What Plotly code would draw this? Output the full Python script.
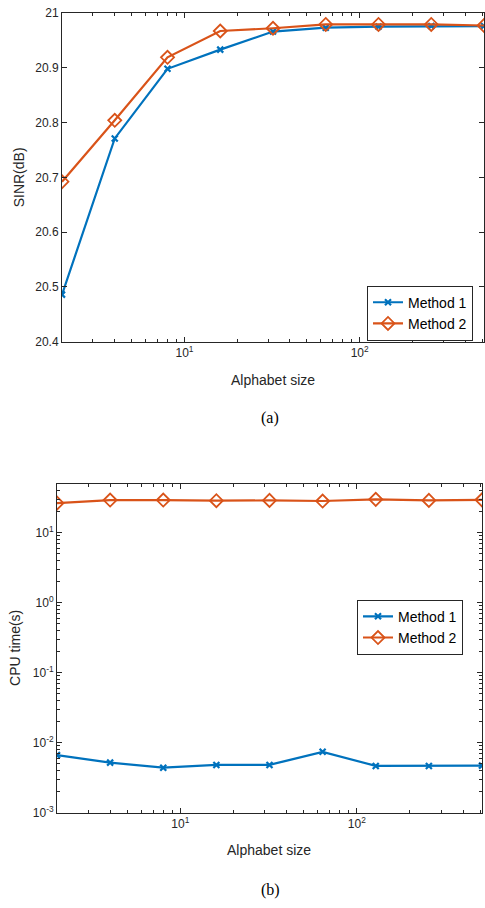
import plotly.graph_objects as go

# ---- data ----
alphabet = [2, 4, 8, 16, 32, 64, 128, 256, 512]
sinr_m1 = [20.486, 20.771, 20.898, 20.933, 20.966, 20.973, 20.975, 20.976, 20.976]
sinr_m2 = [20.692, 20.804, 20.919, 20.967, 20.972, 20.979, 20.979, 20.979, 20.977]
cpu_m1 = [0.00665, 0.00519, 0.00440, 0.00481, 0.00481, 0.00741, 0.00466, 0.00466, 0.00470]
cpu_m2 = [26.5, 29.3, 29.3, 28.7, 29.0, 28.4, 30.0, 29.0, 29.5]
names = ["Method 1", "Method 2"]

BLUE = "#0072BD"
ORANGE = "#D95319"
AX = "#262626"
W, H = 485, 908
SANS = "Liberation Sans, Arial, sans-serif"

fig = go.Figure()

def add_pair(y1, y2, xa, ya, leg):
    fig.add_trace(go.Scatter(x=alphabet, y=y1, name=names[0], mode="lines+markers",
                             line=dict(color=BLUE, width=2.2),
                             marker=dict(symbol="x-thin-open", size=6, color=BLUE,
                                         line=dict(color=BLUE, width=2.2)),
                             xaxis=xa, yaxis=ya, legend=leg))
    fig.add_trace(go.Scatter(x=alphabet, y=y2, name=names[1], mode="lines+markers",
                             line=dict(color=ORANGE, width=2.2),
                             marker=dict(symbol="diamond-open", size=10, color=ORANGE,
                                         line=dict(color=ORANGE, width=1.8)),
                             xaxis=xa, yaxis=ya, legend=leg))

add_pair(sinr_m1, sinr_m2, "x", "y", "legend")
add_pair(cpu_m1, cpu_m2, "x2", "y2", "legend2")

xminor = [3, 4, 5, 6, 7, 8, 9, 20, 30, 40, 50, 60, 70, 80, 90, 200, 300, 400, 500]
tickfont = dict(family=SANS, size=12, color=AX)

def xaxis(dom, anchor):
    return dict(type="log", domain=dom, anchor=anchor, range=[0.30103, 2.7093],
                tickvals=[10, 100], ticktext=["10<sup>1</sup>", "10<sup>2</sup>"],
                ticks="inside", ticklen=5, tickcolor=AX, tickwidth=1,
                minor=dict(tickvals=xminor, ticks="inside", ticklen=3, tickcolor=AX),
                showline=True, linecolor=AX, linewidth=1, mirror="allticks",
                showgrid=False, zeroline=False, tickfont=tickfont,
                ticklabeloverflow="allow")

fig.update_layout(
    width=W, height=H, paper_bgcolor="white", plot_bgcolor="white",
    margin=dict(l=0, r=0, t=0, b=0),
    xaxis=xaxis([62 / W, 484 / W], "y"),
    xaxis2=xaxis([57 / W, 482 / W], "y2"),
    yaxis=dict(domain=[1 - 340 / H, 1 - 6 / H], anchor="x", range=[20.4, 21.0],
               tickvals=[20.4, 20.5, 20.6, 20.7, 20.8, 20.9, 21.0],
               ticktext=["20.4", "20.5", "20.6", "20.7", "20.8", "20.9", "21"],
               ticks="inside", ticklen=5, tickcolor=AX,
               showline=True, linecolor=AX, linewidth=1, mirror="allticks",
               showgrid=False, zeroline=False, tickfont=tickfont,
               ticklabeloverflow="allow"),
    yaxis2=dict(type="log", domain=[1 - 818.3 / H, 1 - 484.3 / H], anchor="x2",
                range=[-3, 1.699],
                tickvals=[0.001, 0.01, 0.1, 1, 10],
                ticktext=["10<sup>-3</sup>", "10<sup>-2</sup>", "10<sup>-1</sup>",
                          "10<sup>0</sup>", "10<sup>1</sup>"],
                ticks="inside", ticklen=5, tickcolor=AX,
                minor=dict(tickvals=[m * 10 ** e for e in range(-3, 2) for m in range(2, 10)
                                     if m * 10 ** e <= 50],
                           ticks="inside", ticklen=3, tickcolor=AX),
                showline=True, linecolor=AX, linewidth=1, mirror="allticks",
                showgrid=False, zeroline=False, tickfont=tickfont,
                ticklabeloverflow="allow"),
    legend=dict(x=367 / W, y=1 - 283 / H, xanchor="left", yanchor="top",
                bgcolor="white", bordercolor=AX, borderwidth=1,
                font=dict(family=SANS, size=14, color="black"),
                tracegroupgap=0, itemwidth=30),
    legend2=dict(x=357 / W, y=1 - 602 / H, xanchor="left", yanchor="top",
                 bgcolor="white", bordercolor=AX, borderwidth=1,
                 font=dict(family=SANS, size=14, color="black"),
                 tracegroupgap=0, itemwidth=30),
    showlegend=True,
)

lab = dict(family=SANS, size=14, color=AX)
cap = dict(family="Liberation Serif, Times New Roman, serif", size=16, color="black")
ann = [
    dict(text="Alphabet size", x=273 / W, y=1 - 379 / H, font=lab),
    dict(text="SINR(dB)", x=19 / W, y=1 - 173 / H, font=lab, textangle=-90),
    dict(text="(a)", x=270 / W, y=1 - 417 / H, font=cap),
    dict(text="Alphabet size", x=269 / W, y=1 - 856 / H, font=lab),
    dict(text="CPU time(s)", x=15 / W, y=1 - 651 / H, font=lab, textangle=-90),
    dict(text="(b)", x=270 / W, y=1 - 897 / H, font=cap),
]
for a in ann:
    fig.add_annotation(xref="paper", yref="paper", showarrow=False,
                       xanchor="center", yanchor="middle", **a)

fig.write_html("out.html", config={"displayModeBar": False},
               post_script="document.body.style.margin='0';document.body.style.overflow='hidden';")
